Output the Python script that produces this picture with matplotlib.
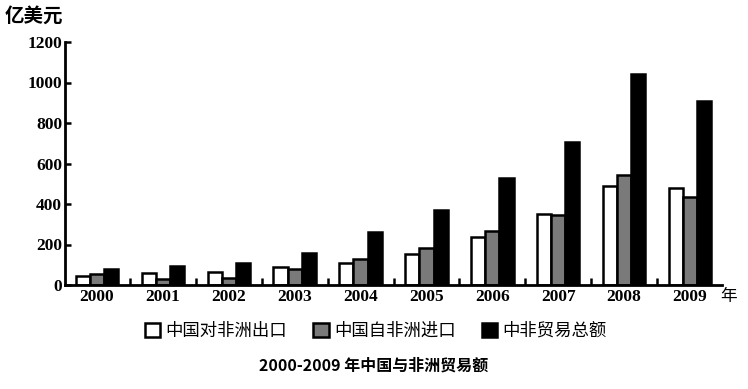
import numpy as np
import matplotlib
matplotlib.use("Agg")
import matplotlib.pyplot as plt

plt.rcParams['font.family'] = ['Noto Sans CJK SC', 'DejaVu Sans']

years = ['2000', '2001', '2002', '2003', '2004', '2005', '2006', '2007', '2008', '2009']
exports = [45, 60, 65, 90, 110, 153, 235, 350, 489, 478]
imports = [55, 30, 35, 78, 130, 183, 267, 345, 543, 436]
totals = [80, 95, 110, 160, 263, 370, 530, 708, 1042, 910]
series_names = ['中国对非洲出口', '中国自非洲进口', '中非贸易总额']
yticks = [0, 200, 400, 600, 800, 1000, 1200]

fig = plt.figure(figsize=(7.48, 3.89), dpi=100)
ax = fig.add_axes([65 / 748, 104 / 389, 657 / 748, 243 / 389])

x = np.arange(len(years))
w = 0.215
ax.bar(x - w, exports, w, color='white', edgecolor='black', linewidth=1.8, label=series_names[0])
ax.bar(x, imports, w, color='#7a7a7a', edgecolor='black', linewidth=1.8, label=series_names[1])
ax.bar(x + w, totals, w, color='black', edgecolor='black', linewidth=1.8, label=series_names[2])

ax.set_xlim(-0.485, len(years) - 0.515)
ax.set_ylim(0, 1200)
ax.set_yticks(yticks)
ax.set_yticklabels([str(t) for t in yticks], family='Liberation Serif',
                   fontweight='bold', fontsize=12.5)
ax.set_xticks(x)
ax.set_xticklabels(years, family='Liberation Serif', fontweight='bold', fontsize=12.5)
ax.tick_params(axis='x', length=0, pad=3)
ax.tick_params(axis='y', direction='in', length=4, width=1.8, pad=2)
# small marks between the year groups
ax.set_xticks(x[:-1] + 0.5, minor=True)
ax.tick_params(axis='x', which='minor', direction='in', length=5, width=1.8)

for side in ['top', 'right']:
    ax.spines[side].set_visible(False)
for side in ['left', 'bottom']:
    ax.spines[side].set_linewidth(2)

fig.text(5 / 748, 1 - 16 / 389, '亿美元', fontsize=14, fontweight='bold', va='center', ha='left')
fig.text(720 / 748, 1 - 296 / 389, '年', fontsize=12, va='center', ha='left')

fig.legend(loc='center', bbox_to_anchor=(518 / 748 - 0.19, 1 - 331 / 389), ncol=3, frameon=False,
           fontsize=12.5, handlelength=0.9, handleheight=0.9, handletextpad=0.3,
           columnspacing=1.5)
fig.text(0.5, 1 - 366 / 389, '2000-2009 年中国与非洲贸易额', fontsize=11.5,
         fontweight='bold', ha='center', va='center')

fig.savefig('out.png', dpi=100)
